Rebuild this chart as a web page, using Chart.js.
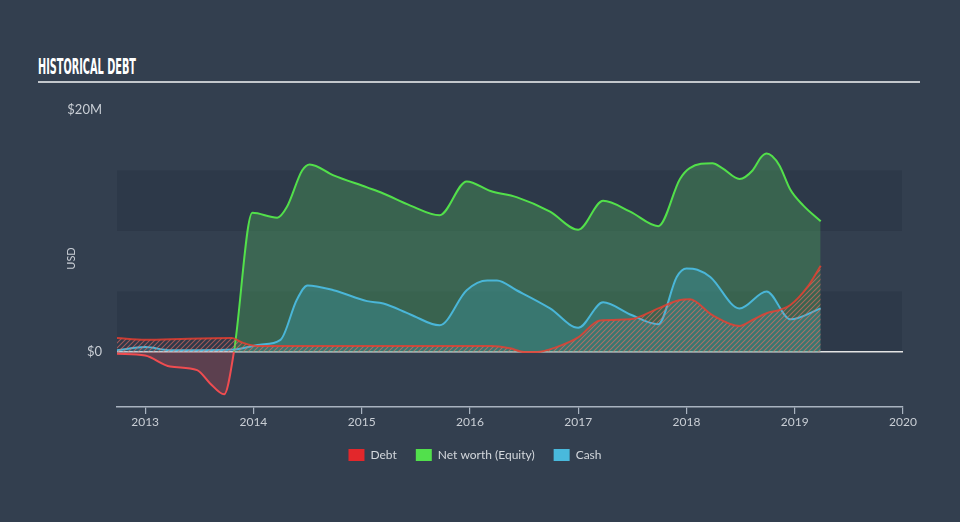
<!DOCTYPE html>
<html><head><meta charset="utf-8">
<script src="https://cdn.jsdelivr.net/npm/chart.js@4.4.1/dist/chart.umd.min.js"></script>
<style>
html,body{margin:0;padding:0;background:#333f4f;width:960px;height:522px;overflow:hidden}
#wrap{position:relative;width:960px;height:522px}
#c{position:absolute;left:0;top:0}
#title{position:absolute;left:38px;top:57px;font-family:"Liberation Sans Narrow","DejaVu Sans Condensed",sans-serif;font-weight:bold;font-size:21px;color:#ffffff;white-space:nowrap;transform-origin:0 0;line-height:1;display:inline-block}
#rule{position:absolute;left:38px;top:81px;width:882px;height:2px;background:#c3c7cc}
</style></head>
<body><div id="wrap"><div id="title">HISTORICAL DEBT</div><div id="rule"></div><canvas id="c" width="960" height="522"></canvas></div>
<script>
// ---- data (USD millions, x = fractional year) ----
const xTickYears = [2013, 2014, 2015, 2016, 2017, 2018, 2019, 2020];
const yTickValues = [0, 20];
const bandRanges = [[0, 5], [10, 15]];

const debtYears  = [2012.74, 2013.0, 2013.4, 2013.8, 2013.9, 2014.03, 2016.2, 2016.37, 2016.5, 2016.62, 2016.8, 2017.0, 2017.2, 2017.48, 2017.74, 2017.94, 2018.03, 2018.24, 2018.49, 2018.61, 2018.74, 2018.86, 2018.96, 2019.12, 2019.24];
const debtValues = [1.15, 1.0, 1.1, 1.15, 0.77, 0.5, 0.5, 0.3, 0.0, 0.0, 0.4, 1.2, 2.6, 2.7, 3.6, 4.3, 4.35, 3.05, 2.15, 2.64, 3.2, 3.47, 3.88, 5.4, 7.13];

const equityYears  = [2012.74, 2013.0, 2013.23, 2013.48, 2013.6, 2013.73, 2013.82, 2013.99, 2014.22, 2014.31, 2014.45, 2014.52, 2014.74, 2015.05, 2015.2, 2015.45, 2015.72, 2015.97, 2016.19, 2016.43, 2016.74, 2017.0, 2017.23, 2017.48, 2017.74, 2017.94, 2018.03, 2018.24, 2018.33, 2018.49, 2018.61, 2018.69, 2018.74, 2018.79, 2018.86, 2018.96, 2019.08, 2019.24];
const equityValues = [-0.15, -0.3, -1.2, -1.5, -2.6, -3.5, 0, 11.5, 11.1, 12.0, 15.0, 15.5, 14.6, 13.6, 13.1, 12.1, 11.3, 14.1, 13.3, 12.8, 11.6, 10.1, 12.5, 11.6, 10.4, 14.3, 15.2, 15.6, 15.2, 14.3, 15.0, 16.1, 16.4, 16.2, 15.4, 13.4, 12.1, 10.8];

const cashYears  = [2012.74, 2013.0, 2013.23, 2013.5, 2013.82, 2014.06, 2014.25, 2014.4, 2014.5, 2014.74, 2015.05, 2015.2, 2015.45, 2015.72, 2015.97, 2016.16, 2016.25, 2016.43, 2016.74, 2017.0, 2017.23, 2017.48, 2017.74, 2017.91, 2018.0, 2018.1, 2018.22, 2018.49, 2018.74, 2018.96, 2019.24];
const cashValues = [0.15, 0.4, 0.15, 0.15, 0.2, 0.6, 1.0, 4.3, 5.5, 5.1, 4.2, 4.0, 3.1, 2.2, 5.1, 5.9, 5.9, 5.1, 3.6, 2.0, 4.1, 3.1, 2.3, 6.2, 6.9, 6.8, 6.2, 3.6, 5.0, 2.7, 3.6];

const seriesNames = ['Debt', 'Net worth (Equity)', 'Cash'];
const legendColors = ['#e3272b', '#52e04c', '#49b9dc'];

// ---- styling helpers ----
const pts = (xs, ys) => xs.map((x, i) => ({x: x, y: ys[i]}));
function hatch() {
  const n = 5, c = document.createElement('canvas');
  c.width = n; c.height = n;
  const g = c.getContext('2d');
  g.strokeStyle = 'rgba(232,110,100,0.62)';
  g.lineWidth = 1.1;
  g.beginPath();
  g.moveTo(0, n); g.lineTo(n, 0);
  g.moveTo(-1, 1); g.lineTo(1, -1);
  g.moveTo(n - 1, n + 1); g.lineTo(n + 1, n - 1);
  g.stroke();
  return g.createPattern(c, 'repeat');
}
const GREEN = '#52e04a', RED = '#f04c50';
function equityBorder(ctx) {
  const chart = ctx.chart, area = chart.chartArea;
  if (!area) return GREEN;
  const y0 = chart.scales.y.getPixelForValue(0);
  const s = Math.min(1, Math.max(0, (y0 - area.top) / (area.bottom - area.top)));
  const g = chart.ctx.createLinearGradient(0, area.top, 0, area.bottom);
  g.addColorStop(0, GREEN); g.addColorStop(s, GREEN);
  g.addColorStop(s, RED); g.addColorStop(1, RED);
  return g;
}

const bandsPlugin = {
  id: 'bands',
  beforeDraw(chart) {
    const {ctx, chartArea, scales} = chart;
    ctx.save();
    ctx.fillStyle = '#2d3949';
    bandRanges.forEach(([a, b]) => {
      const y1 = scales.y.getPixelForValue(b), y2 = scales.y.getPixelForValue(a);
      ctx.fillRect(chartArea.left, y1, chartArea.right - chartArea.left - 1, y2 - y1);
    });
    ctx.restore();
  }
};

const TICK = '#c9ced5';
new Chart(document.getElementById('c'), {
  type: 'line',
  data: {
    datasets: [
      {label: seriesNames[0], data: pts(debtYears, debtValues), order: 0,
       borderColor: 'rgba(236,62,48,0.82)', borderWidth: 2, backgroundColor: hatch(), fill: 'origin'},
      {label: seriesNames[1], data: pts(equityYears, equityValues), order: 2,
       borderColor: equityBorder, borderWidth: 2,
       fill: {target: 'origin', above: 'rgba(76,163,89,0.4)', below: 'rgba(230,70,80,0.23)'}},
      {label: seriesNames[2], data: pts(cashYears, cashValues), order: 1,
       borderColor: '#4ab6d8', borderWidth: 2, backgroundColor: 'rgba(60,165,190,0.3)', fill: 'origin'}
    ]
  },
  options: {
    responsive: false, animation: false,
    elements: {point: {radius: 0}, line: {cubicInterpolationMode: 'monotone'}},
    layout: {padding: {left: 47, right: 57, top: 110, bottom: 51}},
    scales: {
      x: {type: 'linear', min: 2012.74, max: 2020,
          afterBuildTicks: s => { s.ticks = xTickYears.map(v => ({value: v})); },
          afterFit: s => { s.height = 23; },
          border: {display: true, color: '#a9b3c0', width: 1.5},
          grid: {drawOnChartArea: false, color: '#a9b3c0', tickLength: 7, lineWidth: 1.2},
          ticks: {color: TICK, padding: 1, font: {family: 'Lato', size: 12}, callback: v => String(v), maxRotation: 0}},
      y: {min: -4.55, max: 20,
          afterBuildTicks: s => { s.ticks = yTickValues.map(v => ({value: v})); },
          afterFit: s => { s.width = 70; },
          border: {display: false},
          grid: {drawTicks: false, lineWidth: 1.5, color: c => (c.tick && c.tick.value === 0) ? '#e4e4e4' : 'rgba(0,0,0,0)'},
          ticks: {color: TICK, padding: 15, font: {family: 'Lato', size: 13}, callback: v => v === 0 ? '$0' : '$' + v + 'M'},
          title: {display: true, text: 'USD', color: TICK, font: {family: 'Lato', size: 11}, padding: {top: 18, bottom: 0}}}
    },
    plugins: {
      tooltip: {enabled: false},
      legend: {position: 'bottom', align: 'center',
        labels: {boxWidth: 16, boxHeight: 12, padding: 19, color: '#d3d7dc', font: {family: 'Lato', size: 12},
          generateLabels: () => seriesNames.map((t, i) => ({text: t, fillStyle: legendColors[i], strokeStyle: legendColors[i], lineWidth: 0, hidden: false, datasetIndex: i, fontColor: '#d3d7dc'}))}}
    }
  },
  plugins: [bandsPlugin]
});

// fit condensed title to its width in the reference
const t = document.getElementById('title');
const w = t.getBoundingClientRect().width;
t.style.transform = 'scaleX(' + (98 / w) + ')';
</script>
</body></html>
